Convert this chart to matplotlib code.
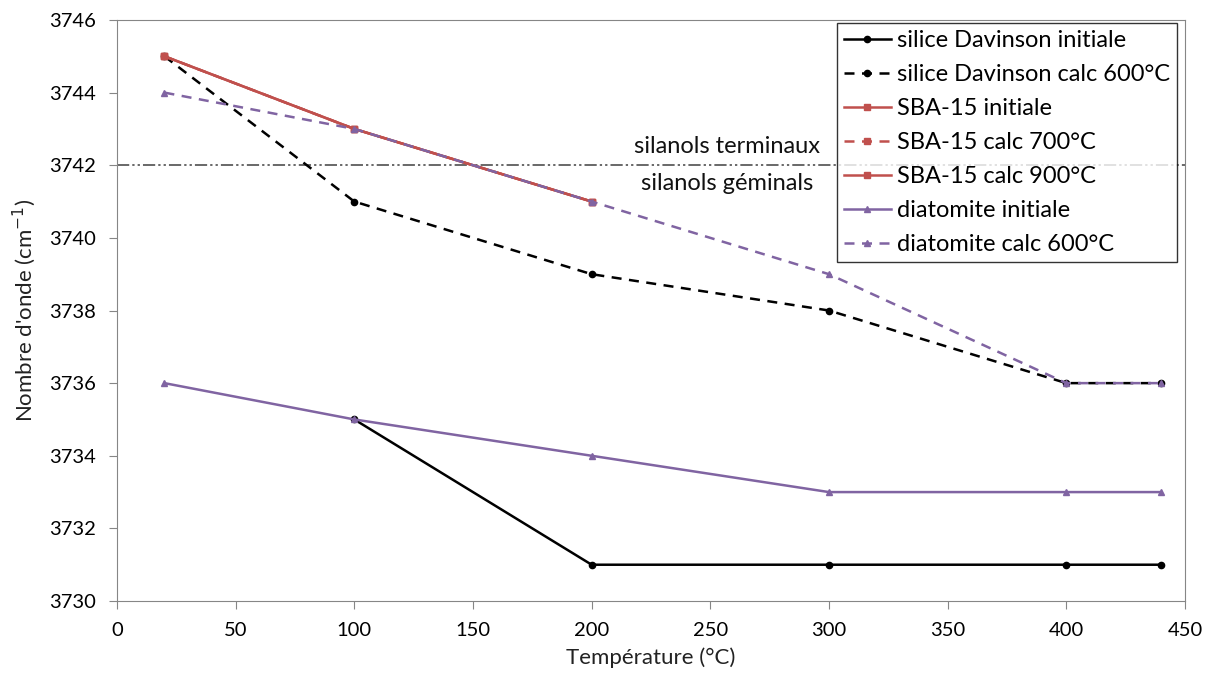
import numpy as np
import matplotlib.pyplot as plt

plt.rcParams['font.family'] = ['Lato', 'DejaVu Sans']

# data
x_all = [20, 100, 200, 300, 400, 440]
x_sil_init = [100, 200, 300, 400, 440]
sil_init = [3735, 3731, 3731, 3731, 3731]
sil_calc = [3745, 3741, 3739, 3738, 3736, 3736]
x_sba = [20, 100, 200]
sba_init = [3745, 3743, 3741]
sba_700 = [3745, 3743, 3741]
sba_900 = [3745, 3743, 3741]
dia_init = [3736, 3735, 3734, 3733, 3733, 3733]
dia_calc = [3744, 3743, 3741, 3739, 3736, 3736]
limite = 3742

red = '#C0504D'
purple = '#8064A2'

fig = plt.figure(figsize=(12.11, 6.84), dpi=100)
ax = fig.add_axes([0.0966, 0.1213, 0.8819, 0.8495])

ax.axhline(limite, color='#404040', lw=1.1, dashes=(8, 2, 1.5, 2, 1.5, 2), zorder=1)

ax.plot(x_sil_init, sil_init, color='black', lw=1.8, marker='o', ms=4.5, label='silice Davinson initiale')
ax.plot(x_all, sil_calc, color='black', lw=1.8, ls=(0, (4, 3)), marker='o', ms=4.5, label='silice Davinson calc 600°C')
ax.plot(x_sba, sba_init, color=red, lw=1.8, marker='s', ms=4.5, label='SBA-15 initiale')
ax.plot(x_sba, sba_700, color=red, lw=1.8, ls=(0, (4, 3)), marker='s', ms=4.5, label='SBA-15 calc 700°C')
ax.plot(x_sba, sba_900, color=red, lw=1.8, marker='s', ms=4.5, label='SBA-15 calc 900°C')
ax.plot(x_all, dia_init, color=purple, lw=1.8, marker='^', ms=4.5, label='diatomite initiale')
ax.plot(x_all, dia_calc, color=purple, lw=1.8, ls=(0, (4, 3)), marker='^', ms=4.5, label='diatomite calc 600°C')

ax.text(257, limite + 0.22, 'silanols terminaux', ha='center', va='bottom', fontsize=17, color='#111111')
ax.text(257, limite - 0.22, 'silanols géminals', ha='center', va='top', fontsize=17, color='#111111')

ax.set_xlim(0, 450)
ax.set_ylim(3730, 3746)
ax.set_xticks(np.arange(0, 451, 50))
ax.set_yticks(np.arange(3730, 3747, 2))
ax.tick_params(direction='out', length=6, color='#868686', labelsize=14.5, pad=9)
for s in ax.spines.values():
    s.set_color('#868686')
ax.set_xlabel('Température (°C)', fontsize=16, color='#222222', labelpad=6)
ax.set_ylabel("Nombre d'onde (cm$^{-1}$)", fontsize=16, color='#222222', labelpad=8)

leg = ax.legend(loc='upper right', bbox_to_anchor=(0.9925, 0.995), fontsize=17, frameon=True,
                fancybox=False, handlelength=2.0, handletextpad=0.25, labelspacing=0.55,
                borderpad=0.3, borderaxespad=0.0)
leg.get_frame().set_edgecolor('black')
leg.get_frame().set_linewidth(1.0)

plt.savefig('out.png', dpi=100)
